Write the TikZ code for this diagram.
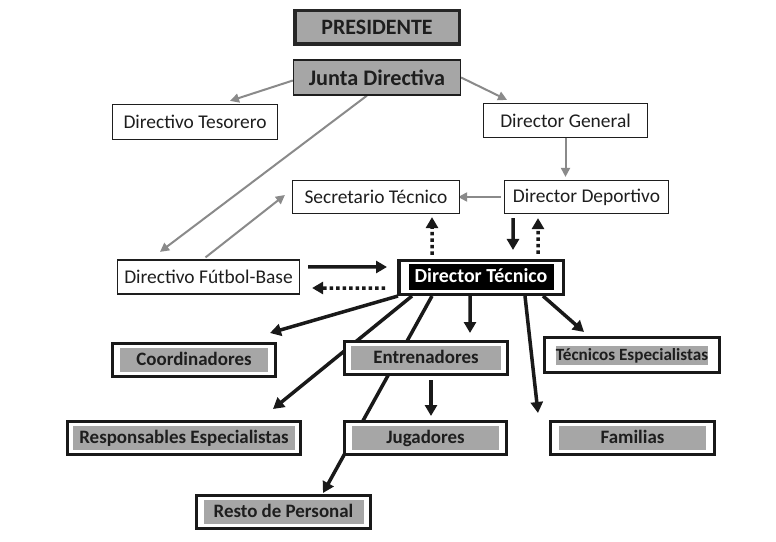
\documentclass[tikz,border=0pt]{standalone}
\usepackage{fontspec}
\setmainfont{Carlito}
\usetikzlibrary{arrows.meta,backgrounds}
\definecolor{boxgray}{RGB}{166,166,166}
\definecolor{linegray}{RGB}{138,138,138}
\definecolor{ink}{RGB}{30,30,30}
\setlength{\fboxsep}{0pt}
% gray label inside a framed box, and the black one of the technical director
\newcommand{\gbox}[2]{\colorbox{boxgray}{\makebox[#1]{\rule[-7bp]{0pt}{24bp}#2}}}
\newcommand{\bbox}[2]{\colorbox{black}{\makebox[#1]{\rule[-7.5bp]{0pt}{26bp}\color{white}#2}}}
\tikzset{
  plain/.style={draw=ink, line width=1.2bp, fill=white, text=ink, inner sep=0pt,
    font=\fontsize{19.5}{21}\selectfont},
  outbox/.style={draw=black!90, line width=3bp, fill=white, text=ink, inner sep=0pt,
    font=\fontsize{19}{21}\selectfont\bfseries},
  garrow/.style={draw=linegray, line width=2bp, -{Triangle[length=9bp,width=9bp]}},
  barrow/.style={draw=black!90, line width=3.5bp, -{Triangle[length=11bp,width=12bp]}},
  darrow/.style={barrow, dash pattern=on 3.5bp off 3bp}
}
\begin{document}
\begin{tikzpicture}[x=1bp,y=-1bp]
\useasboundingbox (0,0) rectangle (776,542);
\draw (377,27.5) node[plain, fill=boxgray, draw=black!85, line width=3.5bp, minimum width=164.5bp,
  minimum height=33.5bp, font=\fontsize{22}{24}\selectfont\bfseries] (pres) {PRESIDENTE};
\draw (377,77.5) node[plain, fill=boxgray, minimum width=167bp, minimum height=35bp,
  font=\fontsize{22.3}{24}\selectfont\bfseries] (junta) {Junta Directiva};
\draw (195,122) node[plain, minimum width=165bp, minimum height=35bp] (teso) {Directivo Tesorero};
\draw (565.5,120.5) node[plain, minimum width=164bp, minimum height=34bp] (dgen) {Director General};
\draw (376,197) node[plain, minimum width=167bp, minimum height=33bp] (secr) {Secretario Técnico};
\draw (586.5,197) node[plain, minimum width=164bp, minimum height=33bp] (ddep) {Director Deportivo};
\draw (208.5,277) node[plain, minimum width=182bp, minimum height=34bp] (fbase) {Directivo Fútbol-Base};
\draw (481,277.5) node[outbox, line width=3.5bp, minimum width=164.5bp, minimum height=33.5bp,
  font=\fontsize{20}{22}\selectfont\bfseries] (dt) {\bbox{145bp}{Director Técnico}};

\draw (194,360) node[outbox, minimum width=163bp, minimum height=33bp] (coord) {\gbox{148bp}{Coordinadores}};
\draw (426,358) node[outbox, minimum width=163bp, minimum height=33bp] (entr) {\gbox{150bp}{Entrenadores}};
\draw (632,355) node[outbox, minimum width=175bp, minimum height=35bp,
  font=\fontsize{17.2}{19}\selectfont\bfseries] (tecn) {\colorbox{boxgray}{\rule[-4bp]{0pt}{19bp}Técnicos Especialistas}};
\draw (184,438) node[outbox, minimum width=233bp, minimum height=33bp] (resp) {\gbox{222bp}{Responsables Especialistas}};
\draw (425.5,438) node[outbox, minimum width=162bp, minimum height=33bp] (jug) {\gbox{147bp}{Jugadores}};
\draw (632.5,438) node[outbox, minimum width=164bp, minimum height=33bp] (fam) {\gbox{147bp}{Familias}};
\draw (283.5,512) node[outbox, minimum width=174bp, minimum height=33bp] (resto) {\gbox{160bp}{Resto de Personal}};

\begin{scope}[on background layer]
\draw[garrow] ([yshift=-3bp]junta.west) -- ([xshift=35bp,yshift=3bp]teso.north);
\draw[garrow] (junta.east) -- ([xshift=-58.5bp,yshift=3bp]dgen.north);
\draw[garrow] ([xshift=-10bp]junta.south) -- ([xshift=-48.5bp,yshift=7.5bp]fbase.north);
\draw[garrow] ([xshift=-3bp,yshift=2bp]fbase.north) -- ([xshift=-7bp,yshift=2bp]secr.west);
\draw[garrow] (dgen.south) -- ([yshift=3bp]dgen.south |- ddep.north);
\draw[garrow] ([xshift=-3bp]ddep.west) -- ([xshift=-2bp]secr.east);

\draw[barrow] ([xshift=8bp,yshift=10bp]fbase.east) -- ([xshift=-10bp,yshift=10.5bp]dt.west);
\draw[darrow] ([xshift=-12bp,yshift=-10.5bp]dt.west) -- ([xshift=12bp,yshift=-11bp]fbase.east);
\draw[darrow] ([xshift=-49bp,yshift=4bp]dt.north) -- ([xshift=56bp,yshift=-3bp]secr.south);
\draw[barrow] ([xshift=-73.5bp,yshift=-4bp]ddep.south) -- ([xshift=32bp,yshift=9bp]dt.north);
\draw[darrow] ([xshift=57bp,yshift=5bp]dt.north) -- ([xshift=-48.5bp,yshift=-4bp]ddep.south);

\draw[barrow] ([xshift=1bp]dt.south west) -- ([xshift=-7bp,yshift=9bp]coord.north east);
\draw[barrow] ([xshift=15bp]dt.south west) -- ([xshift=-29bp,yshift=11bp]resp.north east);
\draw[barrow] ([xshift=35bp]dt.south west) -- ([xshift=39.5bp,yshift=1bp]resto.north);
\draw[barrow] ([xshift=-11bp]dt.south) -- ([xshift=44bp,yshift=7bp]entr.north);
\draw[barrow] ([xshift=44bp]dt.south) -- ([xshift=-94.5bp,yshift=7bp]fam.north);
\draw[barrow] ([xshift=62bp]dt.south) -- ([xshift=-48bp,yshift=4bp]tecn.north);
\draw[barrow] ([xshift=5bp,yshift=-4bp]entr.south) -- ([xshift=5.5bp,yshift=4bp]jug.north);
\end{scope}
\end{tikzpicture}
\end{document}
